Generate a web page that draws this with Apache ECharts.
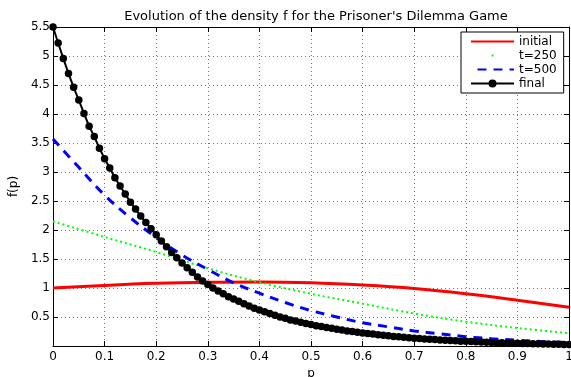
<!DOCTYPE html>
<html><head><meta charset="utf-8">
<script src="https://cdn.jsdelivr.net/npm/echarts@6/dist/echarts.min.js"></script>
<style>html,body{margin:0;padding:0;background:#fff}#c{width:571px;height:377px}</style>
</head><body><div id="c"></div>
<script>
// ---- data ----
const title = "Evolution of the density f for the Prisoner's Dilemma Game";
const seriesNames = ['initial', 't=250', 't=500', 'final'];
const xTicks = [0, 0.1, 0.2, 0.3, 0.4, 0.5, 0.6, 0.7, 0.8, 0.9, 1];
const yTicks = [0.5, 1, 1.5, 2, 2.5, 3, 3.5, 4, 4.5, 5, 5.5];

const pCoarse10 = [0, 0.1, 0.2, 0.3, 0.4, 0.5, 0.6, 0.7, 0.8, 0.9, 1.0];
const initialVals = [1.0, 1.045, 1.08, 1.10, 1.105, 1.09, 1.05, 0.99, 0.90, 0.79, 0.67];
const t250Vals = [2.15, 1.88, 1.62, 1.34, 1.10, 0.90, 0.73, 0.56, 0.42, 0.31, 0.22];

const pCoarse20 = [0, 0.05, 0.1, 0.15, 0.2, 0.25, 0.3, 0.35, 0.4, 0.45, 0.5, 0.55, 0.6, 0.65, 0.7, 0.75, 0.8, 0.85, 0.9, 0.95, 1.0];
const t500Vals = [3.57, 3.08, 2.60, 2.21, 1.87, 1.57, 1.32, 1.09, 0.91, 0.75, 0.61, 0.50, 0.40, 0.33, 0.26, 0.21, 0.16, 0.125, 0.10, 0.075, 0.06];

const pFine = [0,0.01,0.02,0.03,0.04,0.05,0.06,0.07,0.08,0.09,0.1,0.11,0.12,0.13,0.14,0.15,0.16,0.17,0.18,0.19,0.2,0.21,0.22,0.23,0.24,0.25,0.26,0.27,0.28,0.29,0.3,0.31,0.32,0.33,0.34,0.35,0.36,0.37,0.38,0.39,0.4,0.41,0.42,0.43,0.44,0.45,0.46,0.47,0.48,0.49,0.5,0.51,0.52,0.53,0.54,0.55,0.56,0.57,0.58,0.59,0.6,0.61,0.62,0.63,0.64,0.65,0.66,0.67,0.68,0.69,0.7,0.71,0.72,0.73,0.74,0.75,0.76,0.77,0.78,0.79,0.8,0.81,0.82,0.83,0.84,0.85,0.86,0.87,0.88,0.89,0.9,0.91,0.92,0.93,0.94,0.95,0.96,0.97,0.98,0.99,1.0];
const finalVals = [5.5,5.225,4.957,4.70,4.46,4.24,4.01,3.79,3.61,3.41,3.23,3.07,2.90,2.76,2.62,2.48,2.36,2.24,2.13,2.02,1.92,1.81,1.71,1.61,1.52,1.43,1.35,1.27,1.19,1.12,1.06,1.00,0.95,0.90,0.85,0.81,0.77,0.73,0.69,0.65,0.62,0.59,0.56,0.53,0.50,0.48,0.45,0.43,0.41,0.39,0.37,0.35,0.335,0.32,0.305,0.29,0.275,0.26,0.25,0.235,0.225,0.215,0.205,0.195,0.185,0.175,0.165,0.158,0.15,0.143,0.135,0.128,0.122,0.116,0.11,0.104,0.099,0.094,0.089,0.084,0.08,0.076,0.072,0.068,0.064,0.061,0.058,0.055,0.052,0.049,0.046,0.044,0.041,0.039,0.037,0.035,0.033,0.031,0.029,0.027,0.025];

function zip(xs, ys){ return xs.map((x,i)=>[x, ys[i]]); }

const FONT = 'DejaVu Sans, Verdana, sans-serif';
const chart = echarts.init(document.getElementById('c'), null, {renderer:'canvas'});
const gridLine = {show:true, lineStyle:{color:'#777', width:1, type:[1,3]}};
const axisLineBlack = {show:true, onZero:false, lineStyle:{color:'#000', width:1}};
const noDot = {opacity:0};
chart.setOption({
  animation:false,
  backgroundColor:'#fff',
  title:{text:title, left:311, textAlign:'center', top:5,
    textStyle:{fontFamily:FONT, fontSize:13, fontWeight:'normal', color:'#000'}},
  grid:{left:53, right:2, top:27, bottom:31, containLabel:false, outerBoundsMode:'none'},
  legend:{
    orient:'vertical', left:461, top:32, padding:[3,7,3,9],
    backgroundColor:'#fff', borderColor:'#000', borderWidth:1, borderRadius:0,
    itemWidth:43, itemHeight:10, itemGap:1,
    textStyle:{fontFamily:FONT, fontSize:12, lineHeight:13, color:'#000'},
    data:[
      {name:'initial', itemStyle:noDot},
      {name:'t=250', itemStyle:noDot, lineStyle:{type:[2,60], dashOffset:41.5, width:2}},
      {name:'t=500', itemStyle:noDot},
      {name:'final'}
    ]
  },
  xAxis:[{
    type:'value', min:0, max:1, interval:0.1, position:'bottom',
    name:'p', nameLocation:'middle', nameGap:18,
    nameTextStyle:{fontFamily:FONT, fontSize:12, color:'#000'},
    axisLine:axisLineBlack,
    axisTick:{show:true, inside:true, length:5, lineStyle:{color:'#000'}},
    axisLabel:{fontFamily:FONT, fontSize:12, color:'#000', margin:5,
      formatter:v=> xTicks.some(t=>Math.abs(t-v)<1e-9) ? String(+v.toFixed(1)) : ''},
    splitLine:gridLine
  },{
    type:'value', min:0, max:1, interval:0.1, position:'top',
    axisLine:axisLineBlack,
    axisTick:{show:true, inside:true, length:5, lineStyle:{color:'#000'}},
    axisLabel:{show:false}, splitLine:{show:false}
  }],
  yAxis:[{
    type:'value', min:0, max:5.5, interval:0.5, position:'left',
    name:'f(p)', nameLocation:'middle', nameGap:27, nameRotate:90,
    nameTextStyle:{fontFamily:FONT, fontSize:12, color:'#000'},
    axisLine:axisLineBlack,
    axisTick:{show:true, inside:true, length:5, lineStyle:{color:'#000'}},
    axisLabel:{fontFamily:FONT, fontSize:12, color:'#000', margin:3,
      formatter:v=> yTicks.some(t=>Math.abs(t-v)<1e-9) ? String(+v.toFixed(1)) : ''},
    splitLine:gridLine
  },{
    type:'value', min:0, max:5.5, interval:0.5, position:'right',
    axisLine:axisLineBlack,
    axisTick:{show:true, inside:true, length:5, lineStyle:{color:'#000'}},
    axisLabel:{show:false}, splitLine:{show:false}
  }],
  series:[
    {name:seriesNames[0], type:'line', data:zip(pCoarse10, initialVals), smooth:0.4,
     symbol:'none', lineStyle:{color:'#ff0000', width:3}, itemStyle:{color:'#ff0000'}, z:2},
    {name:seriesNames[1], type:'line', data:zip(pCoarse10, t250Vals), smooth:0.4,
     symbol:'none', lineStyle:{color:'#00ff00', width:2, type:[2,3]}, itemStyle:{color:'#00ff00'}, z:3},
    {name:seriesNames[2], type:'line', data:zip(pCoarse20, t500Vals), smooth:0.4,
     symbol:'none', lineStyle:{color:'#0000ff', width:3, type:[9,7]}, itemStyle:{color:'#0000ff'}, z:4},
    {name:seriesNames[3], type:'line', data:zip(pFine, finalVals),
     symbol:'circle', symbolSize:7.5, showSymbol:true, showAllSymbol:true,
     lineStyle:{color:'#000', width:2}, itemStyle:{color:'#000'}, z:5}
  ]
});
</script>
</body></html>
